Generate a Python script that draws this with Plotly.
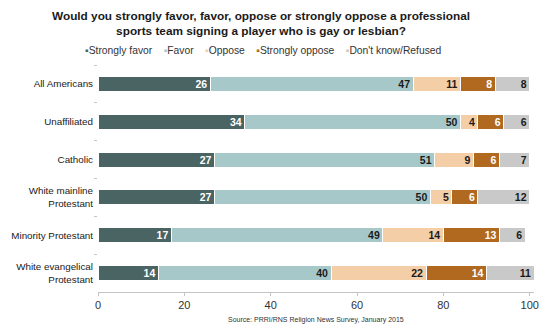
import plotly.graph_objects as go

groups = [
    "All Americans",
    "Unaffiliated",
    "Catholic",
    "White mainline<br>Protestant",
    "Minority Protestant",
    "White evangelical<br>Protestant",
]
series_names = ["Strongly favor", "Favor", "Oppose", "Strongly oppose", "Don't know/Refused"]
strongly_favor = [26, 34, 27, 27, 17, 14]
favor = [47, 50, 51, 50, 49, 40]
oppose = [11, 4, 9, 5, 14, 22]
strongly_oppose = [8, 6, 6, 6, 13, 14]
dont_know = [8, 6, 7, 12, 6, 11]
x_ticks = [0, 20, 40, 60, 80, 100]

series_values = [strongly_favor, favor, oppose, strongly_oppose, dont_know]
colors = ["#4a6363", "#a7c8c9", "#f4cea7", "#b0691f", "#c9c9c9"]
label_colors = ["#ffffff", "#1a1a1a", "#1a1a1a", "#ffffff", "#1a1a1a"]

FONT = "Liberation Sans, Arial, sans-serif"

fig = go.Figure()
for name, vals, col, lcol in zip(series_names, series_values, colors, label_colors):
    fig.add_trace(go.Bar(
        y=groups,
        x=vals,
        name=name,
        orientation="h",
        width=0.4,
        marker=dict(color=col, line=dict(color="#ffffff", width=1)),
        text=vals,
        texttemplate="<b>%{x}</b>",
        textposition="inside",
        insidetextanchor="end",
        textangle=0,
        constraintext="none",
        textfont=dict(family=FONT, size=10.5, color=lcol),
        showlegend=False,
        hoverinfo="skip",
    ))

# Legend row: small colored squares followed by series names
sp = "&nbsp;" * 4
legend_parts = []
for name, col in zip(series_names, colors):
    legend_parts.append(f'<span style="color:{col}">▪</span>{name}')
legend_text = sp.join(legend_parts)

fig.update_layout(
    width=550,
    height=329,
    margin=dict(l=98, r=16, t=65, b=37),
    paper_bgcolor="#ffffff",
    plot_bgcolor="#ffffff",
    barmode="stack",
    bargap=0.6,
    font=dict(family=FONT, color="#222222"),
    title=dict(
        text="<b>Would you strongly favor, favor, oppose or strongly oppose a professional<br>sports team signing a player who is gay or lesbian?</b>",
        x=261 / 550,
        xref="container",
        xanchor="center",
        y=1 - 20 / 329,
        yref="container",
        yanchor="middle",
        font=dict(family=FONT, size=11.8, color="#1a1a1a"),
    ),
    xaxis=dict(
        range=[0, 101],
        tickvals=x_ticks,
        ticktext=[str(v) for v in x_ticks],
        showgrid=False,
        zeroline=False,
        showline=True,
        linecolor="#c4c4c4",
        linewidth=1,
        ticks="outside",
        ticklen=3,
        tickcolor="#c4c4c4",
        tickfont=dict(family=FONT, size=11, color="#333333"),
        automargin=False,
        fixedrange=True,
    ),
    yaxis=dict(
        categoryorder="array",
        categoryarray=groups,
        autorange="reversed",
        showgrid=False,
        zeroline=False,
        showline=False,
        ticks="outside",
        tickson="boundaries",
        ticklen=3,
        tickcolor="#c4c4c4",
        ticklabelstandoff=4,
        tickfont=dict(family=FONT, size=9.8, color="#1a1a1a"),
        automargin=False,
        fixedrange=True,
    ),
    annotations=[
        dict(
            text=legend_text,
            xref="paper", yref="paper",
            x=(263 - 98) / 436, y=1 + (65 - 51) / 227,
            xanchor="center", yanchor="middle",
            showarrow=False,
            font=dict(family=FONT, size=10.3, color="#333333"),
        ),
        dict(
            text="Source: PRRI/RNS Religion News Survey, January 2015",
            xref="paper", yref="paper",
            x=(316 - 98) / 436, y=-(320 - 292) / 227,
            xanchor="center", yanchor="middle",
            showarrow=False,
            font=dict(family=FONT, size=7, color="#333333"),
        ),
    ],
)

fig.write_html("out.html")
